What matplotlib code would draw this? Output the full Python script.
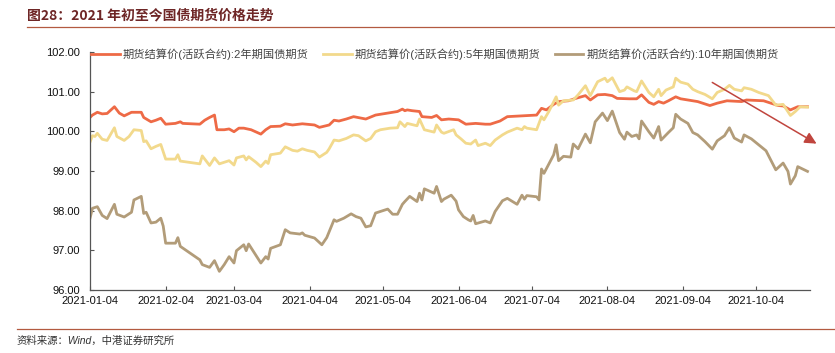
import matplotlib
matplotlib.use("Agg")
import matplotlib.pyplot as plt
import pandas as pd

# data -------------------------------------------------------------- data

y2_dates = ["2021-01-04", "2021-01-05", "2021-01-07", "2021-01-09", "2021-01-11", "2021-01-14",
            "2021-01-16", "2021-01-18", "2021-01-21", "2021-01-25", "2021-01-26", "2021-01-29",
            "2021-01-31", "2021-02-02", "2021-02-04", "2021-02-08", "2021-02-10", "2021-02-11",
            "2021-02-18", "2021-02-20", "2021-02-22", "2021-02-24", "2021-02-25", "2021-02-28",
            "2021-03-02", "2021-03-04", "2021-03-06", "2021-03-08", "2021-03-11", "2021-03-15",
            "2021-03-17", "2021-03-19", "2021-03-23", "2021-03-25", "2021-03-28", "2021-04-01",
            "2021-04-06", "2021-04-08", "2021-04-12", "2021-04-14", "2021-04-16", "2021-04-19",
            "2021-04-22", "2021-04-27", "2021-05-01", "2021-05-06", "2021-05-10", "2021-05-12",
            "2021-05-13", "2021-05-14", "2021-05-16", "2021-05-19", "2021-05-20", "2021-05-24",
            "2021-05-26", "2021-05-28", "2021-05-31", "2021-06-04", "2021-06-07", "2021-06-11",
            "2021-06-15", "2021-06-17", "2021-06-21", "2021-06-24", "2021-06-30", "2021-07-06",
            "2021-07-08", "2021-07-10", "2021-07-13", "2021-07-15", "2021-07-19", "2021-07-22",
            "2021-07-26", "2021-07-28", "2021-07-31", "2021-08-03", "2021-08-06", "2021-08-08",
            "2021-08-13", "2021-08-16", "2021-08-18", "2021-08-21", "2021-08-23", "2021-08-25",
            "2021-08-27", "2021-08-29", "2021-09-01", "2021-09-03", "2021-09-06", "2021-09-10",
            "2021-09-15", "2021-09-18", "2021-09-22", "2021-09-28", "2021-09-30", "2021-10-07",
            "2021-10-10", "2021-10-13", "2021-10-15", "2021-10-18", "2021-10-21", "2021-10-25"]
y2_price = [100.35, 100.41, 100.48, 100.44, 100.45, 100.62, 100.46, 100.39, 100.48, 100.48,
            100.35, 100.24, 100.28, 100.33, 100.18, 100.20, 100.24, 100.20, 100.18, 100.28,
            100.35, 100.41, 100.04, 100.04, 100.06, 99.99, 100.08, 100.08, 100.04, 99.93,
            100.04, 100.12, 100.13, 100.19, 100.16, 100.19, 100.16, 100.10, 100.16, 100.28,
            100.26, 100.31, 100.37, 100.31, 100.41, 100.46, 100.50, 100.56, 100.52, 100.54,
            100.52, 100.50, 100.37, 100.35, 100.40, 100.29, 100.31, 100.29, 100.18, 100.20,
            100.18, 100.18, 100.26, 100.37, 100.39, 100.41, 100.58, 100.54, 100.68, 100.75,
            100.77, 100.83, 100.90, 100.79, 100.92, 100.93, 100.90, 100.83, 100.82, 100.82,
            100.92, 100.73, 100.68, 100.75, 100.71, 100.77, 100.87, 100.82, 100.79, 100.75,
            100.65, 100.71, 100.77, 100.75, 100.79, 100.77, 100.71, 100.65, 100.64, 100.54,
            100.62, 100.62]

y5_dates = ["2021-01-04", "2021-01-05", "2021-01-06", "2021-01-07", "2021-01-09", "2021-01-11",
            "2021-01-14", "2021-01-15", "2021-01-18", "2021-01-20", "2021-01-22", "2021-01-25",
            "2021-01-26", "2021-01-27", "2021-01-29", "2021-01-31", "2021-02-02", "2021-02-04",
            "2021-02-08", "2021-02-09", "2021-02-10", "2021-02-18", "2021-02-19", "2021-02-22",
            "2021-02-24", "2021-02-26", "2021-03-02", "2021-03-04", "2021-03-05", "2021-03-08",
            "2021-03-09", "2021-03-10", "2021-03-13", "2021-03-15", "2021-03-17", "2021-03-18",
            "2021-03-19", "2021-03-23", "2021-03-25", "2021-03-28", "2021-03-30", "2021-04-01",
            "2021-04-03", "2021-04-06", "2021-04-08", "2021-04-11", "2021-04-12", "2021-04-14",
            "2021-04-16", "2021-04-19", "2021-04-22", "2021-04-24", "2021-04-27", "2021-04-29",
            "2021-05-01", "2021-05-03", "2021-05-07", "2021-05-10", "2021-05-11", "2021-05-13",
            "2021-05-14", "2021-05-18", "2021-05-19", "2021-05-21", "2021-05-25", "2021-05-26",
            "2021-05-28", "2021-05-29", "2021-06-02", "2021-06-03", "2021-06-05", "2021-06-07",
            "2021-06-09", "2021-06-11", "2021-06-12", "2021-06-15", "2021-06-17", "2021-06-19",
            "2021-06-22", "2021-06-24", "2021-06-28", "2021-06-30", "2021-07-01", "2021-07-02",
            "2021-07-06", "2021-07-08", "2021-07-09", "2021-07-11", "2021-07-14", "2021-07-15",
            "2021-07-17", "2021-07-21", "2021-07-23", "2021-07-26", "2021-07-28", "2021-07-31",
            "2021-08-03", "2021-08-04", "2021-08-06", "2021-08-09", "2021-08-11", "2021-08-12",
            "2021-08-15", "2021-08-16", "2021-08-18", "2021-08-21", "2021-08-23", "2021-08-25",
            "2021-08-26", "2021-08-28", "2021-08-31", "2021-09-01", "2021-09-03", "2021-09-06",
            "2021-09-08", "2021-09-10", "2021-09-13", "2021-09-16", "2021-09-18", "2021-09-21",
            "2021-09-23", "2021-09-25", "2021-09-28", "2021-09-29", "2021-10-02", "2021-10-05",
            "2021-10-09", "2021-10-12", "2021-10-15", "2021-10-18", "2021-10-20", "2021-10-22",
            "2021-10-25"]
y5_price = [99.73, 99.89, 99.87, 99.95, 99.80, 99.77, 100.09, 99.87, 99.77, 99.87, 100.04, 100.02,
            99.74, 99.76, 99.56, 99.62, 99.67, 99.30, 99.30, 99.41, 99.25, 99.18, 99.38, 99.14,
            99.33, 99.18, 99.26, 99.15, 99.33, 99.38, 99.28, 99.36, 99.22, 99.11, 99.25, 99.19,
            99.41, 99.45, 99.61, 99.52, 99.50, 99.56, 99.52, 99.48, 99.35, 99.47, 99.56, 99.78,
            99.76, 99.82, 99.91, 99.89, 99.76, 99.82, 99.99, 100.04, 100.08, 100.09, 100.24, 100.12,
            100.20, 100.14, 100.31, 100.04, 99.98, 100.16, 99.98, 99.95, 100.04, 99.91, 99.81, 99.70,
            99.68, 99.78, 99.64, 99.70, 99.64, 99.78, 99.91, 99.98, 100.08, 100.04, 100.12, 100.08,
            100.04, 100.37, 100.29, 100.50, 100.87, 100.66, 100.77, 100.79, 100.92, 101.15, 100.90,
            101.25, 101.34, 101.25, 101.35, 101.00, 101.04, 101.12, 101.02, 101.00, 101.27, 100.98,
            100.87, 101.06, 100.90, 101.04, 101.12, 101.34, 101.24, 101.19, 101.06, 101.00, 100.93,
            100.82, 100.98, 101.06, 101.16, 101.06, 101.02, 101.10, 101.06, 100.98, 100.90, 100.66,
            100.68, 100.40, 100.50, 100.62, 100.61]

y10_dates = ["2021-01-04", "2021-01-05", "2021-01-07", "2021-01-09", "2021-01-11", "2021-01-14",
             "2021-01-15", "2021-01-18", "2021-01-21", "2021-01-22", "2021-01-25", "2021-01-26",
             "2021-01-27", "2021-01-29", "2021-01-31", "2021-02-02", "2021-02-03", "2021-02-04",
             "2021-02-08", "2021-02-09", "2021-02-10", "2021-02-18", "2021-02-19", "2021-02-22",
             "2021-02-24", "2021-02-26", "2021-02-28", "2021-03-02", "2021-03-04", "2021-03-05",
             "2021-03-08", "2021-03-09", "2021-03-10", "2021-03-13", "2021-03-15", "2021-03-17",
             "2021-03-18", "2021-03-19", "2021-03-23", "2021-03-25", "2021-03-27", "2021-03-31",
             "2021-04-01", "2021-04-02", "2021-04-06", "2021-04-09", "2021-04-11", "2021-04-14",
             "2021-04-15", "2021-04-18", "2021-04-21", "2021-04-23", "2021-04-25", "2021-04-27",
             "2021-04-29", "2021-05-01", "2021-05-06", "2021-05-08", "2021-05-10", "2021-05-12",
             "2021-05-13", "2021-05-15", "2021-05-18", "2021-05-19", "2021-05-20", "2021-05-21",
             "2021-05-25", "2021-05-26", "2021-05-28", "2021-05-29", "2021-06-01", "2021-06-03",
             "2021-06-04", "2021-06-06", "2021-06-08", "2021-06-09", "2021-06-10", "2021-06-11",
             "2021-06-15", "2021-06-17", "2021-06-19", "2021-06-22", "2021-06-24", "2021-06-28",
             "2021-06-30", "2021-07-01", "2021-07-02", "2021-07-06", "2021-07-07", "2021-07-08",
             "2021-07-09", "2021-07-13", "2021-07-14", "2021-07-15", "2021-07-17", "2021-07-20",
             "2021-07-21", "2021-07-23", "2021-07-26", "2021-07-28", "2021-07-30", "2021-08-02",
             "2021-08-04", "2021-08-06", "2021-08-09", "2021-08-11", "2021-08-12", "2021-08-14",
             "2021-08-16", "2021-08-17", "2021-08-18", "2021-08-21", "2021-08-23", "2021-08-25",
             "2021-08-26", "2021-08-29", "2021-08-31", "2021-09-01", "2021-09-03", "2021-09-06",
             "2021-09-08", "2021-09-10", "2021-09-13", "2021-09-16", "2021-09-18", "2021-09-21",
             "2021-09-23", "2021-09-25", "2021-09-28", "2021-09-29", "2021-10-02", "2021-10-05",
             "2021-10-08", "2021-10-12", "2021-10-15", "2021-10-17", "2021-10-18", "2021-10-20",
             "2021-10-21", "2021-10-23", "2021-10-25"]
y10_price = [97.81, 98.06, 98.10, 97.88, 97.80, 98.16, 97.91, 97.84, 97.96, 98.27, 98.36, 97.93,
             97.96, 97.69, 97.71, 97.81, 97.61, 97.18, 97.18, 97.32, 97.10, 96.76, 96.64, 96.57,
             96.74, 96.47, 96.64, 96.84, 96.68, 96.99, 97.14, 96.99, 97.16, 96.87, 96.68, 96.84,
             96.78, 97.05, 97.14, 97.52, 97.44, 97.41, 97.44, 97.38, 97.31, 97.14, 97.32, 97.77,
             97.73, 97.81, 97.92, 97.85, 97.81, 97.59, 97.62, 97.94, 98.04, 97.91, 97.91, 98.16,
             98.23, 98.36, 98.23, 98.44, 98.27, 98.55, 98.44, 98.61, 98.23, 98.29, 98.39, 98.24,
             98.02, 97.85, 97.77, 97.74, 97.88, 97.67, 97.74, 97.69, 97.98, 98.25, 98.31, 98.16,
             98.39, 98.29, 98.38, 98.35, 98.27, 99.05, 98.94, 99.41, 99.66, 99.26, 99.37, 99.35,
             99.68, 99.56, 99.93, 99.71, 100.24, 100.46, 100.27, 100.51, 99.97, 99.80, 99.98, 99.87,
             99.91, 99.81, 100.26, 99.99, 99.83, 100.12, 99.78, 99.97, 100.09, 100.43, 100.31,
             100.20, 99.97, 99.91, 99.74, 99.55, 99.76, 99.89, 100.09, 99.83, 99.73, 99.91, 99.81,
             99.66, 99.51, 99.03, 99.20, 98.99, 98.67, 98.88, 99.11, 99.05, 98.99]

tick_dates = ["2021-01-04", "2021-02-04", "2021-03-04", "2021-04-04", "2021-05-04",
              "2021-06-04", "2021-07-04", "2021-08-04", "2021-09-04", "2021-10-04"]
y_ticks = [96, 97, 98, 99, 100, 101, 102]

labels = ["期货结算价(活跃合约):2年期国债期货",
          "期货结算价(活跃合约):5年期国债期货",
          "期货结算价(活跃合约):10年期国债期货"]
colors = ["#EE6A46", "#F2D98C", "#B29C79"]

# fonts --------------------------------------------------------------------------------- fonts

fam = ["Liberation Sans", "Noto Sans CJK SC", "DejaVu Sans"]
plt.rcParams["font.family"] = fam

# figure -------------------------------------------------------------------------------- figure

fig = plt.figure(figsize=(8.35, 3.53), dpi=100)
ax = fig.add_axes([0.1078, 0.1785, 0.8622, 0.6742])

series = [(y2_dates, y2_price), (y5_dates, y5_price), (y10_dates, y10_price)]
for (d, p), lab, c in zip(series, labels, colors):
    ax.plot(pd.to_datetime(d), p, color=c, lw=2.0, label=lab, solid_joinstyle="round")

ax.set_xlim(pd.Timestamp("2021-01-04"), pd.Timestamp("2021-10-26"))
ax.set_ylim(96, 102)
ax.set_xticks(pd.to_datetime(tick_dates))
ax.set_xticklabels(tick_dates)
ax.set_yticks(y_ticks)
ax.set_yticklabels([f"{v:.2f}" for v in y_ticks])

for s in ["top", "right"]:
    ax.spines[s].set_visible(False)
for s in ["left", "bottom"]:
    ax.spines[s].set_color("#555555")
    ax.spines[s].set_linewidth(0.9)
ax.tick_params(axis="both", direction="in", length=3, width=0.8, color="#555555",
               labelsize=8, labelcolor="#111111")
ax.tick_params(axis="y", pad=7)
ax.tick_params(axis="x", pad=4)

# trend arrow
ax.annotate("", xy=(1.0125, 0.609), xytext=(0.861, 0.878), xycoords="axes fraction",
            textcoords="axes fraction", annotation_clip=False,
            arrowprops=dict(arrowstyle="-|>,head_length=0.7,head_width=0.35",
                            color="#C0453E", lw=1.1))

leg = ax.legend(loc="center left", bbox_to_anchor=(0.002, 0.99), ncol=3, frameon=False,
                fontsize=8.1, handlelength=2.5, handletextpad=0.3, columnspacing=1.3,
                borderpad=0, borderaxespad=0)
for t in leg.get_texts():
    t.set_color("#444444")

# title, rules and source
fig.text(27 / 835, 1 - 15 / 353, "图28：2021 年初至今国债期货价格走势", fontsize=10,
         fontweight="bold", color="#6E2626", va="center", ha="left",
         family=["Noto Sans CJK SC", "DejaVu Sans"])
fig.add_artist(plt.Line2D([27 / 835, 1.0], [1 - 27 / 353] * 2, color="#B35A40", lw=0.9))
fig.add_artist(plt.Line2D([17 / 835, 1.0], [1 - 329 / 353] * 2, color="#B35A40", lw=0.9))
fig.text(17 / 835, 1 - 341 / 353, "资料来源：Wind，中港证券研究所", fontsize=7.5,
         style="italic", color="#333333", va="center", ha="left")

fig.savefig("out.png", dpi=100)
